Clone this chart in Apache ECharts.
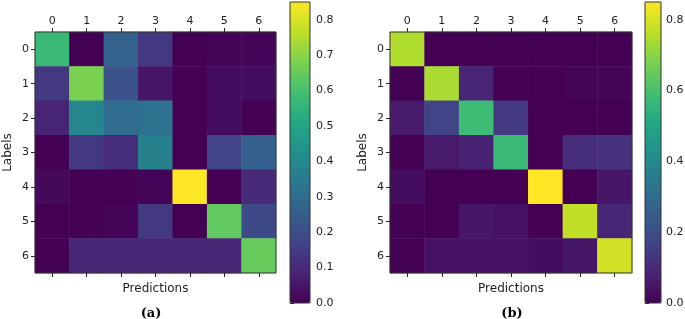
<!DOCTYPE html>
<html>
<head>
<meta charset="utf-8">
<script src="https://cdn.jsdelivr.net/npm/echarts@6/dist/echarts.min.js"></script>
<style>
  html, body { margin: 0; padding: 0; background: #fff; }
  #main { width: 685px; height: 319px; }
</style>
</head>
<body>
<div id="main"></div>
<script>
var classes = ['0', '1', '2', '3', '4', '5', '6'];

// confusion matrix (a), rows = labels, cols = predictions
var matrixA = [
    [0.57, 0.00, 0.27, 0.14, 0.00, 0.01, 0.01],
    [0.14, 0.68, 0.21, 0.05, 0.00, 0.03, 0.03],
    [0.085, 0.39, 0.30, 0.32, 0.00, 0.03, 0.00],
    [0.00, 0.14, 0.11, 0.37, 0.00, 0.17, 0.26],
    [0.02, 0.00, 0.00, 0.01, 0.85, 0.00, 0.10],
    [0.00, 0.00, 0.01, 0.14, 0.00, 0.64, 0.19],
    [0.00, 0.09, 0.09, 0.09, 0.09, 0.09, 0.65]
];

// confusion matrix (b)
var matrixB = [
    [0.75, 0.00, 0.00, 0.00, 0.00, 0.00, 0.00],
    [0.00, 0.74, 0.085, 0.00, 0.00, 0.01, 0.01],
    [0.06, 0.17, 0.58, 0.14, 0.00, 0.00, 0.00],
    [0.00, 0.06, 0.08, 0.57, 0.00, 0.11, 0.12],
    [0.03, 0.00, 0.00, 0.00, 0.85, 0.00, 0.05],
    [0.00, 0.00, 0.05, 0.04, 0.00, 0.77, 0.09],
    [0.00, 0.04, 0.04, 0.04, 0.03, 0.05, 0.79]
];

// colorbar ticks
var ticksA = [0, 0.1, 0.2, 0.3, 0.4, 0.5, 0.6, 0.7, 0.8];
var ticksB = [0, 0.2, 0.4, 0.6, 0.8];

var colorMax = 0.85;
var viridis = ['#440154', '#482475', '#414487', '#355f8d', '#2a788e', '#21918c',
               '#22a884', '#44bf70', '#7ad151', '#bddf26', '#fde725'];

function toCells(m) {
    var out = [];
    for (var r = 0; r < m.length; r++) {
        for (var c = 0; c < m[r].length; c++) {
            out.push([c, r, m[r][c]]);
        }
    }
    return out;
}

var font = 'DejaVu Sans';
var ink = '#222';

function heatAxes(gridIndex) {
    return {
        x: [
            {
                type: 'category', gridIndex: gridIndex, data: classes, position: 'top',
                axisLine: {show: false},
                axisTick: {show: true, alignWithLabel: true, length: 4, lineStyle: {color: ink}},
                axisLabel: {color: ink, fontFamily: font, fontSize: 11, margin: 5},
                splitLine: {show: false}
            },
            {
                type: 'category', gridIndex: gridIndex, data: classes, position: 'bottom',
                name: 'Predictions', nameLocation: 'middle', nameGap: 10,
                nameTextStyle: {color: ink, fontFamily: font, fontSize: 12},
                axisLine: {show: false},
                axisTick: {show: true, alignWithLabel: true, length: 4, lineStyle: {color: ink}},
                axisLabel: {show: false},
                splitLine: {show: false}
            }
        ],
        y: {
            type: 'category', gridIndex: gridIndex, data: classes, inverse: true,
            name: 'Labels', nameLocation: 'middle', nameGap: 21,
            nameTextStyle: {color: ink, fontFamily: font, fontSize: 12},
            axisLine: {show: false},
            axisTick: {show: true, alignWithLabel: true, length: 4, lineStyle: {color: ink}},
            axisLabel: {color: ink, fontFamily: font, fontSize: 11, margin: 6},
            splitLine: {show: false}
        }
    };
}

var axA = heatAxes(0);
var axB = heatAxes(1);

function barAxis(gridIndex, ticks, gap) {
    return {
        type: 'value', gridIndex: gridIndex, position: 'right', min: 0, max: colorMax,
        axisLine: {show: false},
        axisTick: {show: true, length: 4, lineStyle: {color: ink}, customValues: ticks},
        axisLabel: {
            color: ink, fontFamily: font, fontSize: 11, margin: gap,
            customValues: ticks, showMinLabel: true, showMaxLabel: true,
            formatter: function (v) { return v.toFixed(1); }
        },
        splitLine: {show: false}
    };
}

function frame(left, top, width, height, z) {
    return {
        left: left, top: top, width: width, height: height,
        outerBoundsMode: 'none', containLabel: false,
        show: true, borderColor: '#333', borderWidth: 1, backgroundColor: 'transparent', z: z
    };
}

var option = {
    backgroundColor: '#fff',
    animation: false,
    title: [
        {text: '(a)', left: 146, top: 302, textAlign: 'center',
         textStyle: {fontFamily: 'DejaVu Serif', fontWeight: 'bold', fontSize: 13, color: '#000'}},
        {text: '(b)', left: 507, top: 302, textAlign: 'center',
         textStyle: {fontFamily: 'DejaVu Serif', fontWeight: 'bold', fontSize: 13, color: '#000'}}
    ],
    grid: [
        frame(35, 32, 241, 241, 3),
        frame(390, 32, 242, 241, 3),
        frame(290, 2, 20, 301, 5),
        frame(645, 2, 16, 301, 5)
    ],
    xAxis: [
        axA.x[0], axA.x[1], axB.x[0], axB.x[1],
        {type: 'value', gridIndex: 2, show: false},
        {type: 'value', gridIndex: 3, show: false}
    ],
    yAxis: [
        axA.y, axB.y,
        barAxis(2, ticksA, 6),
        barAxis(3, ticksB, 5)
    ],
    visualMap: [
        {
            type: 'continuous', seriesIndex: 0, min: 0, max: colorMax,
            calculable: false, left: 290, top: 2, itemWidth: 20, itemHeight: 301,
            padding: 0, text: null, inRange: {color: viridis}, hoverLink: false
        },
        {
            type: 'continuous', seriesIndex: 1, min: 0, max: colorMax,
            calculable: false, left: 645, top: 2, itemWidth: 16, itemHeight: 301,
            padding: 0, text: null, inRange: {color: viridis}, hoverLink: false
        }
    ],
    series: [
        {
            name: 'a', type: 'heatmap', xAxisIndex: 0, yAxisIndex: 0,
            data: toCells(matrixA), itemStyle: {borderWidth: 0}
        },
        {
            name: 'b', type: 'heatmap', xAxisIndex: 2, yAxisIndex: 1,
            data: toCells(matrixB), itemStyle: {borderWidth: 0}
        }
    ]
};

var chart = echarts.init(document.getElementById('main'));
chart.setOption(option);
</script>
</body>
</html>
